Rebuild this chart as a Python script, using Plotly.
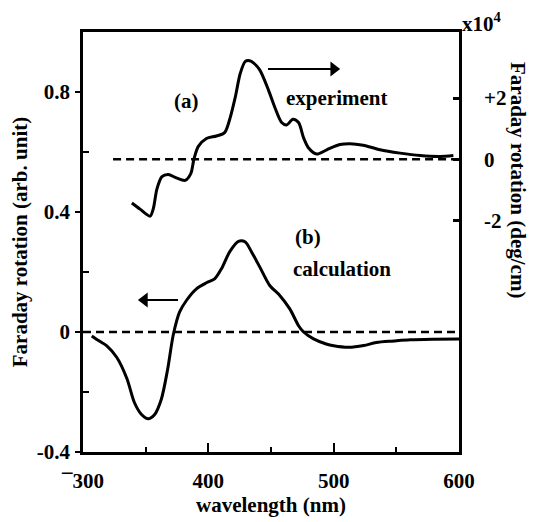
import plotly.graph_objects as go

# Calculation (b), left axis (arb. unit)
calc_x = [307, 313, 319, 327, 335, 341, 346.5, 352, 357, 362.5, 367.5, 372, 377, 382.5,
          390.5, 398.5, 405, 410.5, 417, 424, 429.5, 434.5, 441, 449, 457, 465, 472, 476,
          484, 494, 500, 512, 524, 534, 548, 561, 580, 600]
calc_y = [-0.013, -0.03, -0.046, -0.085, -0.155, -0.235, -0.274, -0.289, -0.276, -0.224,
          -0.125, -0.01, 0.066, 0.105, 0.144, 0.164, 0.177, 0.211, 0.267, 0.302, 0.300,
          0.267, 0.217, 0.155, 0.122, 0.077, 0.021, 0.0, -0.023, -0.04, -0.046, -0.051,
          -0.045, -0.035, -0.03, -0.026, -0.024, -0.023]

# Experiment (a), right axis (x10^4 deg/cm)
exp_x = [339, 345.5, 353.5, 356, 359, 363, 368, 374.5, 381.5, 386, 388.5, 392, 398.5,
         406.5, 413, 417.5, 421.5, 425.5, 429.5, 433, 436, 441, 448, 453, 458.5, 462.5,
         467.5, 472, 476, 480, 486.5, 494.5, 505, 513, 523.5, 537, 553, 569, 585, 595.5]
exp_y = [-1.43, -1.63, -1.86, -1.63, -0.97, -0.57, -0.5, -0.61, -0.69, -0.47, 0.0, 0.42,
         0.68, 0.76, 0.87, 1.37, 2.03, 2.81, 3.2, 3.22, 3.15, 2.92, 2.26, 1.7, 1.2, 1.12,
         1.31, 1.2, 0.7, 0.37, 0.17, 0.31, 0.48, 0.51, 0.46, 0.31, 0.2, 0.12, 0.09, 0.12]

# zero reference lines
zero_calc_x = [300, 600]
zero_calc_y = [0, 0]
zero_exp_x = [324, 600]
zero_exp_y = [0, 0]

x_tickvals = [300, 400, 500, 600]
x_ticktext = ["¯300", "400", "500", "600"]
yl_tickvals = [-0.4, 0, 0.4, 0.8]
yl_ticktext = ["-0.4", "0", "0.4", "0.8"]
yr_tickvals = [-2, 0, 2]
yr_ticktext = ["-2", "0", "+2"]

FONT = "Liberation Serif"
FS = 21
black = "black"

OFF = 8  # page body margin
W, H = 537 - OFF, 522 - OFF
ML, MR, MT, MB = 83 - OFF, 78, 32 - OFF, 70
PW, PH = W - ML - MR, H - MT - MB

fig = go.Figure()
dash = "8px,5px"
fig.add_trace(go.Scatter(x=zero_calc_x, y=zero_calc_y, mode="lines",
                         line=dict(color=black, width=2.5, dash=dash), yaxis="y"))
fig.add_trace(go.Scatter(x=zero_exp_x, y=zero_exp_y, mode="lines",
                         line=dict(color=black, width=2.5, dash=dash), yaxis="y2"))
fig.add_trace(go.Scatter(x=calc_x, y=calc_y, mode="lines",
                         line=dict(color=black, width=3, shape="spline", smoothing=0.8),
                         yaxis="y"))
fig.add_trace(go.Scatter(x=exp_x, y=exp_y, mode="lines",
                         line=dict(color=black, width=3, shape="spline", smoothing=0.8),
                         yaxis="y2"))

# direction arrows (line + triangle head)
arrow_exp = dict(x=[447.6, 500], y=[0.877, 0.877], head="triangle-right")
arrow_calc = dict(x=[375.8, 349], y=[0.107, 0.107], head="triangle-left")
for arr in (arrow_exp, arrow_calc):
    fig.add_trace(go.Scatter(x=arr["x"], y=arr["y"], mode="lines",
                             line=dict(color=black, width=2), yaxis="y"))
    fig.add_trace(go.Scatter(x=[arr["x"][1]], y=[arr["y"][1]], mode="markers",
                             marker=dict(symbol=arr["head"], size=13, color=black,
                                         line=dict(width=0)), yaxis="y"))

bold = lambda s: "<b>" + s + "</b>"
tf = dict(family=FONT, size=FS, color=black)

fig.update_layout(
    width=W, height=H,
    margin=dict(l=ML, r=MR, t=MT, b=MB),
    paper_bgcolor="white", plot_bgcolor="white",
    showlegend=False,
    font=tf,
    xaxis=dict(range=[300, 600], showline=True, linecolor=black, linewidth=2.5,
               mirror=True, showgrid=False, zeroline=False, automargin=False,
               tickvals=x_tickvals, ticktext=[bold(t) for t in x_ticktext],
               ticks="inside", ticklen=9, tickwidth=2, tickcolor=black,
               minor=dict(dtick=50, tick0=300, ticks="inside", ticklen=5, tickwidth=2,
                          tickcolor=black),
               ticklabelstandoff=8, tickfont=tf,
               title=dict(text=bold("wavelength (nm)"), font=tf, standoff=2)),
    yaxis=dict(range=[-0.4, 1.0], showline=True, linecolor=black, linewidth=2.5,
               mirror=True, showgrid=False, zeroline=False, automargin=False,
               tickvals=yl_tickvals, ticktext=[bold(t) for t in yl_ticktext],
               ticks="outside", ticklen=5, tickwidth=2, tickcolor=black,
               minor=dict(tickvals=[-0.2, 0.2, 0.6], ticks="inside", ticklen=6,
                          tickwidth=2, tickcolor=black),
               ticklabelstandoff=1, tickfont=tf,
               title=dict(text=bold("Faraday rotation (arb. unit)"), font=tf, standoff=10)),
    yaxis2=dict(range=[-9.57, 4.16], overlaying="y", side="right", anchor="x",
                showline=True, linecolor=black, linewidth=2.5, showgrid=False,
                zeroline=False, automargin=False, tickvals=yr_tickvals,
                ticktext=[bold(t) for t in yr_ticktext],
                ticks="inside", ticklen=6, tickwidth=3, tickcolor=black,
                ticklabelstandoff=18, tickfont=tf),
)


def px_to_paper(px, py):
    # px, py are screenshot pixels
    return (px - OFF - ML) / PW, (H - (py - OFF) - MB) / PH


annos = [
    dict(text=bold("(a)"), x=382.6, y=0.769, xref="x", yref="y", showarrow=False, font=tf),
    dict(text=bold("experiment"), x=501.9, y=0.78, xref="x", yref="y", showarrow=False, font=tf),
    dict(text=bold("(b)"), x=479.5, y=0.318, xref="x", yref="y", showarrow=False, font=tf),
    dict(text=bold("calculation"), x=506.7, y=0.211, xref="x", yref="y", showarrow=False, font=tf),
]
px_, py_ = px_to_paper(460, 22)
annos.append(dict(text=bold("x10<sup>4</sup>"), x=px_, y=py_, xref="paper", yref="paper",
                  showarrow=False, font=tf, xanchor="left", yanchor="middle"))
px_, py_ = px_to_paper(518, 180)
annos.append(dict(text=bold("Faraday rotation (deg/cm)"), x=px_, y=py_, xref="paper",
                  yref="paper", showarrow=False, font=tf, textangle=90,
                  xanchor="center", yanchor="middle"))
fig.update_layout(annotations=annos)

fig.write_html("out.html")
